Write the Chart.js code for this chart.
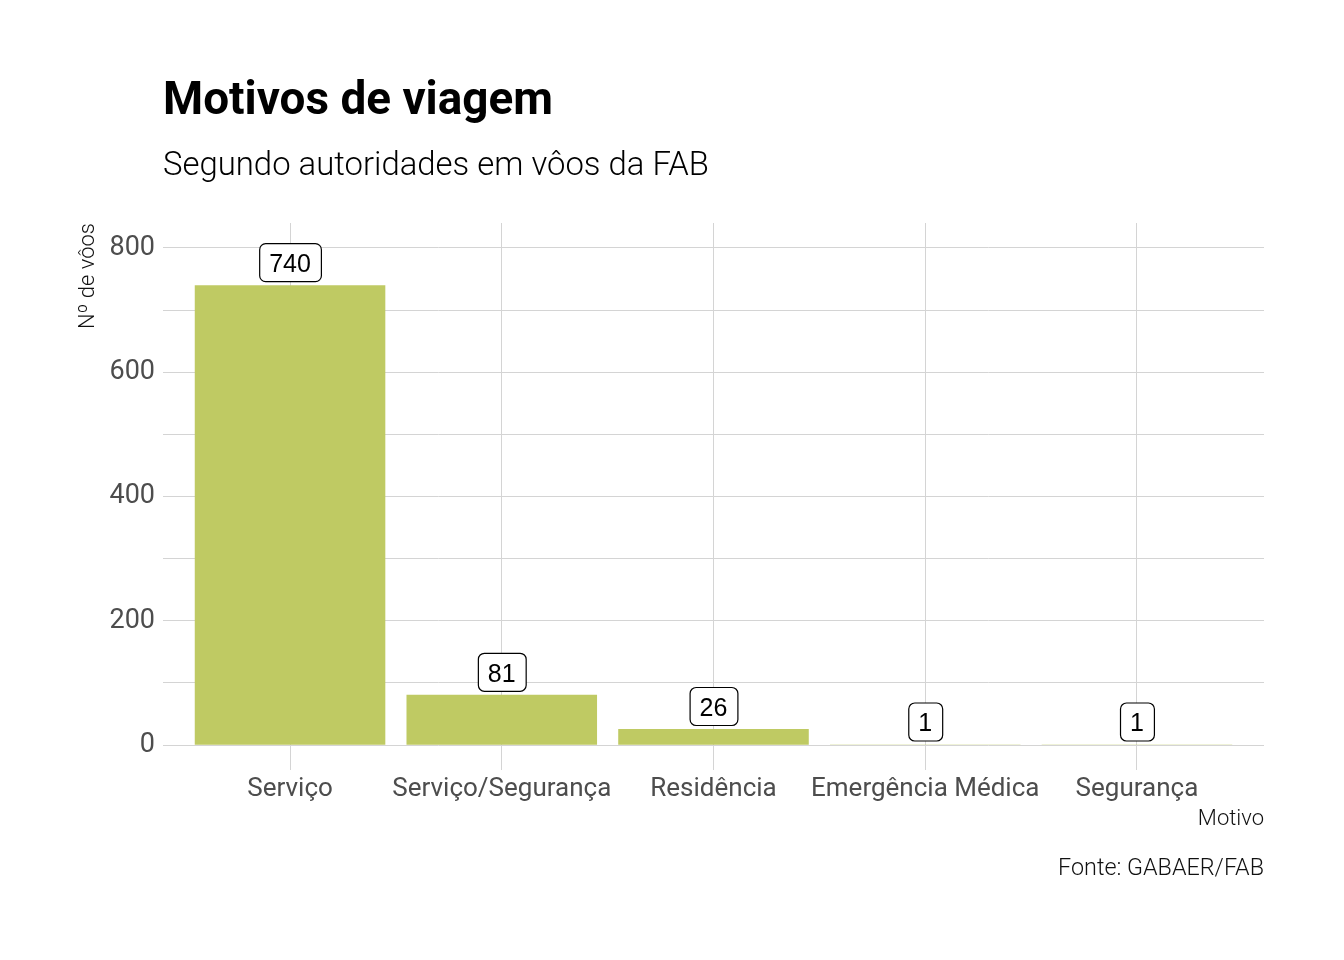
<!DOCTYPE html>
<html><head><meta charset="utf-8">
<script src="https://cdn.jsdelivr.net/npm/chart.js@4.4.0/dist/chart.umd.min.js"></script>
<style>html,body{margin:0;padding:0;background:#fff}#wrap{width:1344px;height:960px;position:relative}</style>
</head><body><div id="wrap"><canvas id="c" width="1344" height="960"></canvas></div>
<script>
const categories = ['Serviço', 'Serviço/Segurança', 'Residência', 'Emergência Médica', 'Segurança'];
const voos = [740, 81, 26, 1, 1];
const yTickLabels = [0, 200, 400, 600, 800];
const yGridValues = [0, 100, 200, 300, 400, 500, 600, 700, 800];
const titleText = 'Motivos de viagem';
const subtitleText = 'Segundo autoridades em vôos da FAB';
const captionText = 'Fonte: GABAER/FAB';
const xTitleText = 'Motivo';
const yTitleText = 'Nº de vôos';

const FAMILY = 'Roboto, "Noto Sans", sans-serif';
const BAR = 'rgb(191,202,99)';
const GRID = '#d4d4d4';

function fitSize(ctx, text, weight, target) {
  ctx.font = weight + ' 100px ' + FAMILY;
  const w = ctx.measureText(text).width;
  return 100 * target / w;
}

const textPlugin = {
  id: 'texts',
  afterDraw(chart) {
    const ctx = chart.ctx;
    const left = chart.chartArea.left, right = chart.chartArea.right;
    ctx.save();
    ctx.fillStyle = '#000';
    ctx.textBaseline = 'alphabetic';
    ctx.textAlign = 'left';
    let s = fitSize(ctx, titleText, 'bold', 390);
    ctx.font = 'bold ' + s + 'px ' + FAMILY;
    ctx.fillText(titleText, left, 114);
    s = fitSize(ctx, subtitleText, '300', 546);
    ctx.font = '300 ' + s + 'px ' + FAMILY;
    ctx.fillText(subtitleText, left, 175);
    s = fitSize(ctx, captionText, '300', 206);
    ctx.font = '300 ' + s + 'px ' + FAMILY;
    ctx.textAlign = 'right';
    ctx.fillStyle = '#111';
    ctx.fillText(captionText, right, 875);
    ctx.restore();
  }
};

const labelPlugin = {
  id: 'barLabels',
  afterDatasetsDraw(chart) {
    const ctx = chart.ctx;
    const meta = chart.getDatasetMeta(0);
    ctx.save();
    ctx.font = '25px "Liberation Sans", Arial, sans-serif';
    ctx.textAlign = 'center';
    ctx.textBaseline = 'middle';
    meta.data.forEach((el, i) => {
      const txt = String(voos[i]);
      const tw = ctx.measureText(txt).width;
      const w = tw + 20, h = 38;
      const x = el.x - w / 2;
      const y = el.y - 4 - h;
      ctx.beginPath();
      ctx.roundRect(x + 0.5, y + 0.5, w, h, 6);
      ctx.fillStyle = '#fff';
      ctx.fill();
      ctx.lineWidth = 1.2;
      ctx.strokeStyle = '#000';
      ctx.stroke();
      ctx.fillStyle = '#000';
      ctx.fillText(txt, el.x, y + h / 2 + 3);
    });
    ctx.restore();
  }
};

new Chart(document.getElementById('c'), {
  type: 'bar',
  data: {
    datasets: [{
      data: categories.map((c, i) => ({ x: i + 1, y: voos[i] })),
      backgroundColor: BAR,
      borderWidth: 0,
      barPercentage: 0.9,
      categoryPercentage: 1.0
    }]
  },
  options: {
    responsive: false,
    devicePixelRatio: 1,
    animation: false,
    layout: { padding: { left: 0, top: 223, right: 80, bottom: 127 } },
    plugins: { legend: { display: false }, tooltip: { enabled: false } },
    scales: {
      x: {
        type: 'linear',
        min: 0.4, max: 5.6,
        offset: false,
        afterBuildTicks: (s) => { s.ticks = categories.map((c, i) => ({ value: i + 1 })); },
        afterFit: (s) => { s.height = 63; },
        grid: { color: GRID, lineWidth: 1, drawTicks: false, offset: false },
        border: { display: false },
        ticks: {
          autoSkip: false, maxRotation: 0, minRotation: 0, padding: 4,
          color: '#4d4d4d', font: { family: FAMILY, size: 26, weight: '400' },
          callback: (v) => categories[v - 1]
        },
        title: {
          display: true, text: xTitleText, align: 'end', color: '#111',
          font: { family: FAMILY, size: 22, weight: '300' }, padding: { top: 0, bottom: 0 }
        }
      },
      y: {
        min: -40, max: 840,
        afterBuildTicks: (s) => { s.ticks = yGridValues.map(v => ({ value: v })); },
        afterFit: (s) => { s.width = 163; },
        grid: { color: GRID, lineWidth: 1, drawTicks: false },
        border: { display: false },
        ticks: {
          padding: 8, color: '#4d4d4d', font: { family: FAMILY, size: 27, weight: '400' },
          callback: (v) => yTickLabels.includes(v) ? String(v) : ''
        },
        title: {
          display: true, text: yTitleText, align: 'end', color: '#111',
          font: { family: FAMILY, size: 22, weight: '300' }, padding: { top: 75, bottom: 0 }
        }
      }
    }
  },
  plugins: [textPlugin, labelPlugin]
});
</script></body></html>
